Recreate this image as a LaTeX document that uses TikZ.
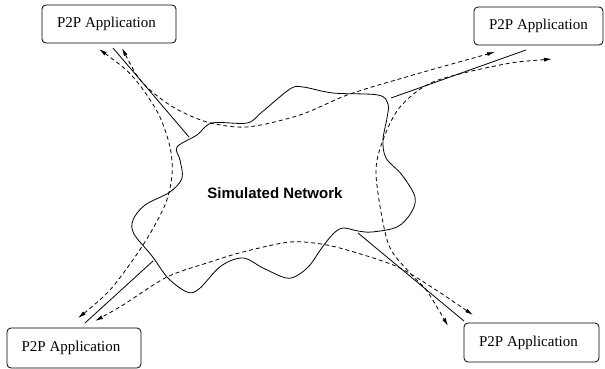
\documentclass[tikz,border=0pt]{standalone}
\usepackage{fontspec}
\setmainfont{Liberation Serif}
\setsansfont{Liberation Sans}
\usetikzlibrary{arrows.meta}
\tikzset{
  appbox/.style={draw, rounded corners=4pt, line width=0.8pt, inner sep=0pt,
    minimum width=134pt, minimum height=38pt,
    font=\fontsize{15}{18}\selectfont},
  link/.style={line width=0.8pt},
  route/.style={line width=0.8pt, dash pattern=on 4pt off 3pt,
    {Latex[length=8pt,width=4pt]}-{Latex[length=8pt,width=4pt]}},
  cloudline/.style={line width=0.8pt},
}
\begin{document}
\begin{tikzpicture}[x=1pt,y=-1pt]
\useasboundingbox (0,0) rectangle (605,369);

% the four application hosts
\node[appbox] (tl) at (109,24)   {P2P Application\hspace*{5pt}};
\node[appbox, minimum width=129pt] (tr) at (538.5,26) {P2P Application};
\node[appbox, minimum height=40pt] (bl) at (74,348)  {P2P Application\hspace*{6pt}};
\node[appbox, minimum width=135pt, minimum height=39pt] (br) at (531.5,342.5) {P2P Application\hspace*{6pt}};

% the network cloud
\draw[cloudline] plot[smooth cycle, tension=0.55] coordinates {
  (177,147) (197,135) (212,123) (247,123) (262,112) (290,89) (303,87)
  (333,93) (378,95) (388,104) (387,118) (383,140) (386,158) (402,175)
  (415,197) (411,213) (397,227) (372,232) (358,231) (343,228) (333,234)
  (321,249) (310,265) (298,275) (286,278) (263,268) (243,258) (221,266)
  (199,289) (187,292) (168,278) (152,256) (134,234) (133,220) (145,205)
  (170,192) (182,178) (180,160)};
\node[font=\sffamily\bfseries\fontsize{15}{18}\selectfont] (net) at (275,193) {Simulated Network};

% access links
\coordinate (l1a) at (113,48);  \coordinate (l1b) at (189,137);
\coordinate (l2a) at (391,98);  \coordinate (l2b) at (526,50);
\coordinate (l3a) at (85,323);  \coordinate (l3b) at (153,261);
\coordinate (l4a) at (358,233); \coordinate (l4b) at (464,321);
\draw[link] (l1a) -- (l1b);
\draw[link] (l2a) -- (l2b);
\draw[link] (l3a) -- (l3b);
\draw[link] (l4a) -- (l4b);

% routes between the hosts
\coordinate (a1) at (99,49);   \coordinate (a2) at (78,318);
\coordinate (b1) at (122,48);  \coordinate (b2) at (495,52);
\coordinate (c1) at (552,59);  \coordinate (c2) at (448,326);
\coordinate (d1) at (473,315); \coordinate (d2) at (95,321);
\draw[route] plot[smooth] coordinates {
  (a1) (133,77) (158,113) (170,147) (172,175) (165,205) (143,245) (110,290) (a2)};
\draw[route] plot[smooth] coordinates {
  (b1) (143,83) (173,107) (207,122) (247,127) (300,115) (350,94) (420,73) (b2)};
\draw[route] plot[smooth] coordinates {
  (c1) (500,65) (433,82) (400,107) (383,140) (376,175) (388,243) (410,273) (427,291) (c2)};
\draw[route] plot[smooth] coordinates {
  (d1) (433,288) (400,268) (367,256) (327,245) (290,242) (243,252) (210,262) (167,277) (123,305) (d2)};
\end{tikzpicture}
\end{document}
